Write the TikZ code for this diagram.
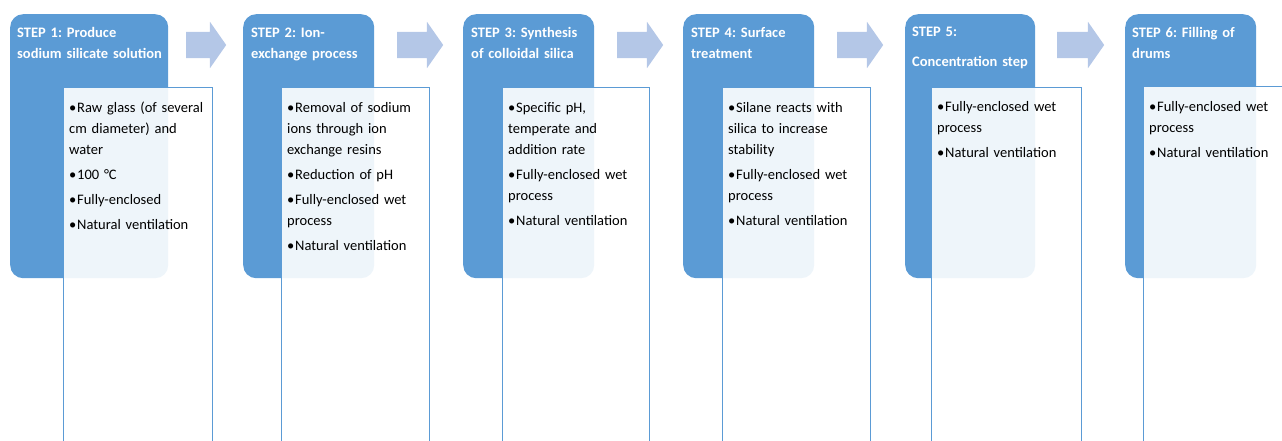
\documentclass[tikz,border=0pt]{standalone}
\usepackage{fontspec}
\setmainfont{Carlito}
\frenchspacing
\usetikzlibrary{shapes.arrows}
\definecolor{stepblue}{HTML}{5B9BD5}
\definecolor{flowblue}{HTML}{B4C7E7}
\newcommand{\stepitem}[1]{\hangindent=8pt\hangafter=1\noindent\makebox[8pt][l]{\textbullet}#1\par\vspace{4.5pt}}
\begin{document}
\begin{tikzpicture}[x=1pt, y=-1pt,
    stephead/.style ={rectangle, rounded corners=13pt, fill=stepblue, anchor=north west,
      minimum width=#1, minimum height=264pt, inner sep=0pt},
    stepbox/.style ={rectangle, fill=white, fill opacity=0.9, draw=stepblue, line width=1.4pt,
      anchor=north west, minimum width=#1, minimum height=400pt, inner sep=0pt},
    steptitle/.style ={anchor=base west, text width=150pt, align=left, inner sep=0pt,
      text=white, font=\bfseries\fontsize{14.5}{21}\selectfont},
    stepnote/.style ={anchor=base west, text width=150pt, align=left, inner sep=0pt,
      font=\fontsize{14.5}{20.7}\selectfont},
    flow/.style ={single arrow, fill=flowblue, anchor=west, inner xsep=0pt, inner ysep=13pt,
      minimum height=#1, single arrow head extend=10pt, single arrow tip angle=110}]
   \clip (0,0) rectangle (1282,441);
   \node[stephead=158pt] (head1) at (10,14)   {};
   \node[stephead=131pt] (head2) at (243,14)  {};
   \node[stephead=131pt] (head3) at (463,14)  {};
   \node[stephead=131pt] (head4) at (683,14)  {};
   \node[stephead=130pt] (head5) at (905,14)  {};
   \node[stephead=131pt] (head6) at (1125,14) {};
   \node[stepbox=149pt] (box1) at (63,87)   {};
   \node[stepbox=148pt] (box2) at (281,87)  {};
   \node[stepbox=147pt] (box3) at (502,87)  {};
   \node[stepbox=148pt] (box4) at (722,87)  {};
   \node[stepbox=150pt] (box5) at (931,87)  {};
   \node[stepbox=160pt] (box6) at (1143,86) {};
   \node[steptitle] (title1) at (17,38)   {STEP 1: Produce\\sodium silicate solution};
   \node[steptitle] (title2) at (251,38)  {STEP 2: Ion-\\exchange process};
   \node[steptitle] (title3) at (471,38)  {STEP 3: Synthesis\\of colloidal silica};
   \node[steptitle] (title4) at (691,38)  {STEP 4: Surface\\treatment};
   \node[steptitle] (title5) at (912,37)  {STEP 5:\\[9pt]Concentration step};
   \node[steptitle] (title6) at (1132,38) {STEP 6: Filling of\\drums};
   \node[stepnote] (note1) at (69,113) {\stepitem{Raw glass (of several\\cm diameter) and\\water}
     \stepitem{100 °C}\stepitem{Fully-enclosed}\stepitem{Natural ventilation}};
   \node[stepnote] (note2) at (287,113) {\stepitem{Removal of sodium\\ions through ion\\exchange resins}
     \stepitem{Reduction of pH}\stepitem{Fully-enclosed wet\\process}\stepitem{Natural ventilation}};
   \node[stepnote] (note3) at (508,113) {\stepitem{Specific pH,\\temperate and\\addition rate}
     \stepitem{Fully-enclosed wet\\process}\stepitem{Natural ventilation}};
   \node[stepnote] (note4) at (728,113) {\stepitem{Silane reacts with\\silica to increase\\stability}
     \stepitem{Fully-enclosed wet\\process}\stepitem{Natural ventilation}};
   \node[stepnote] (note5) at (937,112) {\stepitem{Fully-enclosed wet\\process}\stepitem{Natural ventilation}};
   \node[stepnote] (note6) at (1149,112) {\stepitem{Fully-enclosed wet\\process}\stepitem{Natural ventilation}};
   \node[flow=40pt] (arr1) at (186,45)  {};
   \node[flow=46pt] (arr2) at (397,45)  {};
   \node[flow=46pt] (arr3) at (617,45)  {};
   \node[flow=46pt] (arr4) at (837,45)  {};
   \node[flow=47pt] (arr5) at (1057,45) {};
\end{tikzpicture}
\end{document}
